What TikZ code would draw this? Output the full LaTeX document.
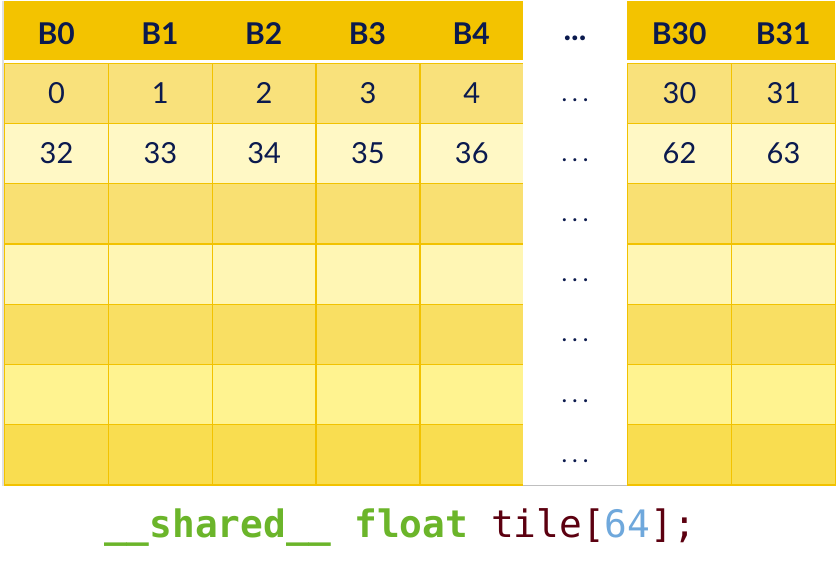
\documentclass[tikz,border=0pt]{standalone}
\usepackage{fontspec}
\setmainfont{Lato}
\setmonofont{DejaVu Sans Mono}
\definecolor{hdr}{HTML}{F3C300}
\definecolor{gridc}{HTML}{F2C200}
\definecolor{ra}{HTML}{F9E17B}
\definecolor{rb}{HTML}{FFF8C5}
\definecolor{rc}{HTML}{F9E072}
\definecolor{rd}{HTML}{FFF6B4}
\definecolor{re}{HTML}{F9DF63}
\definecolor{rf}{HTML}{FFF390}
\definecolor{rg}{HTML}{F9DD50}
\definecolor{navy}{HTML}{0B1A4E}
\definecolor{codegreen}{HTML}{6BB52A}
\definecolor{codered}{HTML}{5C0010}
\definecolor{codeblue}{HTML}{6FA8DC}
\tikzset{
  hdrcell/.style={fill=hdr, draw=none, inner sep=0pt, minimum width=103.8pt, minimum height=59pt, anchor=north west},
  hdrtext/.style={text=navy, inner sep=0pt, font=\fontsize{30}{36}\selectfont\bfseries},
  cell/.style={draw=gridc, line width=1.3pt, inner sep=0pt, minimum width=103.8pt, minimum height=60.25pt, anchor=north west},
  numtext/.style={text=navy, inner sep=0pt, font=\fontsize{29}{34}\selectfont},
  dotsnode/.style={text=navy, inner sep=0pt, font=\fontsize{24}{28}\selectfont},
  hdrdots/.style={text=navy, inner sep=0pt, font=\fontsize{32}{36}\selectfont\bfseries},
}
\begin{document}
\begin{tikzpicture}[x=1pt,y=-1pt]
\useasboundingbox (0,0) rectangle (838,562);
\fill[white] (0,0) rectangle (838,562);
% left shadow
\fill[black!12] (1.5,1) rectangle (4,485.5);
% header
\foreach \i/\x/\lab in {0/4/B0,1/107.8/B1,2/211.6/B2,3/315.4/B3,4/419.2/B4,5/627/B30,6/731/B31}{
  \node[hdrcell] (h\i) at (\x,1) {};
  \node[hdrtext] (ht\i) at ([yshift=-3pt]h\i.center) {\lab};
}
% rows
\foreach \r/\c/\y in {1/ra/62.5,2/rb/122.75,3/rc/183,4/rd/243.25,5/re/303.5,6/rf/363.75,7/rg/424}{
  \foreach \i/\x in {0/4,1/107.8,2/211.6,3/315.4,4/419.2,5/627,6/731}{
    \node[cell, fill=\c] (c\r-\i) at (\x,\y) {};
  }
}
% numbers
\foreach \i/\a/\b in {0/0/32,1/1/33,2/2/34,3/3/35,4/4/36,5/30/62,6/31/63}{
  \node[numtext] (n1-\i) at (c1-\i.center) {\a};
  \node[numtext] (n2-\i) at (c2-\i.center) {\b};
}
% gap column
\fill[white] (523,0) rectangle (627,485);
\draw[black!25, line width=1pt] (523,485.5) -- (627,485.5);
\node[hdrdots] (g0) at (575,38) {...};
\foreach \r/\y in {1/100,2/160,3/220,4/280,5/340,6/401,7/461}{
  \node[dotsnode] (g\r) at (575,\y) {.\hspace{5pt}.\hspace{5pt}.};
}
% code
\node[inner sep=0pt] (code) at (400,527) {\fontsize{37.8}{42}\ttfamily\bfseries\color{codegreen}\_\_shared\_\_ float \mdseries\color{codered}tile[\textcolor{codeblue}{64}];};
\end{tikzpicture}
\end{document}
